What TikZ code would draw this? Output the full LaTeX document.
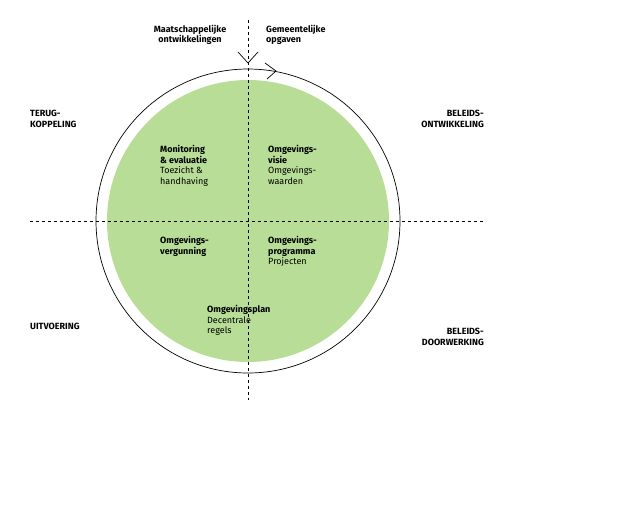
\documentclass[tikz,border=0pt]{standalone}
\usepackage{fontspec}
\setmainfont{Fira Sans}
\usetikzlibrary{arrows.meta}
\definecolor{cyclegreen}{RGB}{183,221,150}

\begin{document}
\begin{tikzpicture}[x=1pt,y=-1pt,
        lbl/.style={font=\fontsize{9}{10.5}\selectfont, align=left, inner sep=0pt},
        axis/.style={dashed, line width=0.6pt}]
        \useasboundingbox (0,0) rectangle (623,512);

        % circle and quadrants
        \fill[cyclegreen] (248,221) circle (141);
        \draw[line width=0.7pt] (248,221) circle (152);
        \draw[axis] (30,221) coordinate (west) -- (483,221) coordinate (east);
        \draw[axis] (248,20) coordinate (north) -- (248,400) coordinate (south);

        % arrow marks at the top
        \coordinate (tipv) at (248,63);
        \draw[line width=0.7pt] (238,52) -- (tipv) -- (258,52);
        \draw[line width=0.7pt] (265,63) -- (276,71) -- (267,79);

        % outer texts
        \node[lbl, align=center, font=\fontsize{9}{10.5}\selectfont\bfseries] (maat) at (190,35) {Maatschappelijke\\ontwikkelingen};
        \node[lbl, align=left, font=\fontsize{9}{10.5}\selectfont\bfseries, anchor=west] (gem) at (266,35) {Gemeentelijke\\opgaven};
        \node[lbl, font=\fontsize{9}{10.5}\selectfont\bfseries, anchor=west] (terug) at (30,119) {TERUG-\\KOPPELING};
        \node[lbl, align=right, font=\fontsize{9}{10.5}\selectfont\bfseries, anchor=east] (ontw) at (484,119) {BELEIDS-\\ONTWIKKELING};
        \node[lbl, font=\fontsize{9}{10.5}\selectfont\bfseries, anchor=west] (uitv) at (30,326) {UITVOERING};
        \node[lbl, align=right, font=\fontsize{9}{10.5}\selectfont\bfseries, anchor=east] (doorw) at (484,337) {BELEIDS-\\DOORWERKING};

        % inner texts
        \node[lbl, anchor=north west] (monitor) at (160,145) {\textbf{Monitoring}\\\textbf{\& evaluatie}\\Toezicht \&\\handhaving};
        \node[lbl, anchor=north west] (visie) at (268,145) {\textbf{Omgevings-}\\\textbf{visie}\\Omgevings-\\waarden};
        \node[lbl, anchor=north west] (vergun) at (160,236) {\textbf{Omgevings-}\\\textbf{vergunning}};
        \node[lbl, anchor=north west] (progr) at (268,236) {\textbf{Omgevings-}\\\textbf{programma}\\Projecten};
        \node[lbl, anchor=north west] (plan) at (207,305) {\textbf{Omgevingsplan}\\Decentrale\\regels};
\end{tikzpicture}
\end{document}
